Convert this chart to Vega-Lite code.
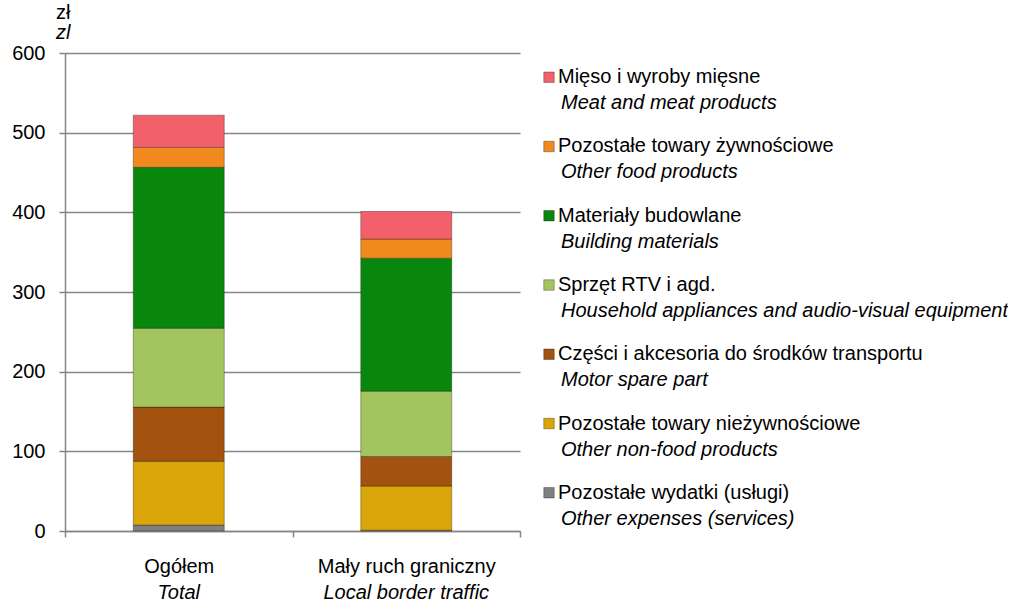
{
  "$schema": "https://vega.github.io/schema/vega-lite/v6.json",
  "padding": {"left": 11, "top": 3, "right": 0, "bottom": 0},
  "bounds": "flush",
  "spacing": 29,
  "config": {
    "view": {"stroke": null},
    "font": "Liberation Sans",
    "text": {"font": "Liberation Sans"}
  },
  "datasets": {
    "bars": [
      {"grp": "Ogółem", "cat": "Pozostałe wydatki (usługi)", "value": 7.5},
      {"grp": "Ogółem", "cat": "Pozostałe towary nieżywnościowe", "value": 80},
      {"grp": "Ogółem", "cat": "Części i akcesoria do środków transportu", "value": 68},
      {"grp": "Ogółem", "cat": "Sprzęt RTV i agd.", "value": 99},
      {"grp": "Ogółem", "cat": "Materiały budowlane", "value": 202},
      {"grp": "Ogółem", "cat": "Pozostałe towary żywnościowe", "value": 25},
      {"grp": "Ogółem", "cat": "Mięso i wyroby mięsne", "value": 40.5},
      {"grp": "Mały ruch graniczny", "cat": "Pozostałe wydatki (usługi)", "value": 1},
      {"grp": "Mały ruch graniczny", "cat": "Pozostałe towary nieżywnościowe", "value": 55.5},
      {"grp": "Mały ruch graniczny", "cat": "Części i akcesoria do środków transportu", "value": 37},
      {"grp": "Mały ruch graniczny", "cat": "Sprzęt RTV i agd.", "value": 82},
      {"grp": "Mały ruch graniczny", "cat": "Materiały budowlane", "value": 167},
      {"grp": "Mały ruch graniczny", "cat": "Pozostałe towary żywnościowe", "value": 24},
      {"grp": "Mały ruch graniczny", "cat": "Mięso i wyroby mięsne", "value": 34.5}
    ],
    "cats": [
      {"cat": "Mięso i wyroby mięsne", "en": "Meat and meat products"},
      {"cat": "Pozostałe towary żywnościowe", "en": "Other food products"},
      {"cat": "Materiały budowlane", "en": "Building materials"},
      {"cat": "Sprzęt RTV i agd.", "en": "Household appliances and audio-visual equipment"},
      {"cat": "Części i akcesoria do środków transportu", "en": "Motor spare part"},
      {"cat": "Pozostałe towary nieżywnościowe", "en": "Other  non-food products"},
      {"cat": "Pozostałe wydatki (usługi)", "en": "Other  expenses (services)"}
    ]
  },
  "hconcat": [
    {
      "width": 455,
      "height": 478,
      "title": {
        "text": "zł",
        "subtitle": "zl",
        "anchor": "start",
        "frame": "group",
        "fontSize": 20,
        "fontWeight": "normal",
        "color": "#000000",
        "subtitleFontSize": 20,
        "subtitleFontStyle": "italic",
        "subtitleColor": "#000000",
        "subtitlePadding": 0,
        "dx": -9,
        "offset": 0
      },
      "data": {"name": "bars"},
      "transform": [
        {"window": [{"op": "row_number", "as": "rank"}], "groupby": ["grp"]}
      ],
      "resolve": {"axis": {"x": "independent"}},
      "layer": [
        {
          "mark": {"type": "bar", "width": {"band": 0.4}, "stroke": "#000000", "strokeOpacity": 0.3, "strokeWidth": 1},
          "encoding": {
            "x": {
              "field": "grp", "type": "nominal",
              "sort": ["Ogółem", "Mały ruch graniczny"],
              "scale": {"paddingInner": 0, "paddingOuter": 0},
              "axis": {
                "title": null, "labelAngle": 0, "labelFontSize": 20, "labelColor": "#000000",
                "labelPadding": 19, "tickBand": "extent", "tickSize": 6, "tickColor": "#868686",
                "tickWidth": 1.5, "domainColor": "#868686", "domainWidth": 1.5, "grid": false
              }
            },
            "y": {
              "field": "value", "type": "quantitative", "stack": "zero",
              "scale": {"domain": [0, 600], "nice": false},
              "axis": {
                "title": null, "values": [0, 100, 200, 300, 400, 500, 600],
                "labelFontSize": 20, "labelColor": "#000000", "labelPadding": 14,
                "tickSize": 6, "tickColor": "#868686", "tickWidth": 1.5,
                "domainColor": "#868686", "domainWidth": 1.5,
                "grid": true, "gridColor": "#868686", "gridWidth": 1.5
              }
            },
            "order": {"field": "rank", "type": "quantitative", "sort": "ascending"},
            "color": {
              "field": "cat", "type": "nominal",
              "scale": {
                "domain": ["Pozostałe wydatki (usługi)", "Pozostałe towary nieżywnościowe", "Części i akcesoria do środków transportu", "Sprzęt RTV i agd.", "Materiały budowlane", "Pozostałe towary żywnościowe", "Mięso i wyroby mięsne"],
                "range": ["#7F7F7F", "#D9A508", "#A3520F", "#A3C45F", "#08870C", "#F08A1E", "#F2616B"]
              },
              "legend": null
            }
          }
        },
        {
          "mark": {"type": "point", "opacity": 0},
          "encoding": {
            "x": {
              "field": "grp", "type": "nominal",
              "sort": ["Ogółem", "Mały ruch graniczny"],
              "axis": {
                "orient": "bottom", "title": null, "labelAngle": 0, "labelFontSize": 20,
                "labelFontStyle": "italic", "labelColor": "#000000",
                "labelExpr": "datum.value == 'Ogółem' ? 'Total' : 'Local border traffic'",
                "ticks": false, "tickSize": 0, "domain": false, "grid": false, "labelPadding": 51
              }
            },
            "y": {"datum": 0, "type": "quantitative"}
          }
        }
      ]
    },
    {
      "width": 400,
      "height": 464,
      "data": {"name": "cats"},
      "encoding": {
        "x": {"datum": 0, "type": "quantitative", "scale": {"domain": [0, 1]}, "axis": null},
        "y": {
          "field": "cat", "type": "nominal",
          "sort": ["Mięso i wyroby mięsne", "Pozostałe towary żywnościowe", "Materiały budowlane", "Sprzęt RTV i agd.", "Części i akcesoria do środków transportu", "Pozostałe towary nieżywnościowe", "Pozostałe wydatki (usługi)"],
          "scale": {"type": "point", "padding": 0.35},
          "axis": null
        }
      },
      "layer": [
        {
          "mark": {"type": "point", "shape": "square", "filled": true, "size": 110, "stroke": "#000000", "strokeOpacity": 0.3, "strokeWidth": 1, "opacity": 1},
          "encoding": {
            "color": {"field": "cat", "type": "nominal", "legend": null}
          }
        },
        {
          "mark": {"type": "text", "align": "left", "baseline": "middle", "dx": 9, "fontSize": 20, "color": "#000000"},
          "encoding": {"text": {"field": "cat"}}
        },
        {
          "mark": {"type": "text", "align": "left", "baseline": "middle", "dx": 12, "dy": 26, "fontSize": 20, "fontStyle": "italic", "color": "#000000"},
          "encoding": {"text": {"field": "en"}}
        }
      ]
    }
  ]
}
